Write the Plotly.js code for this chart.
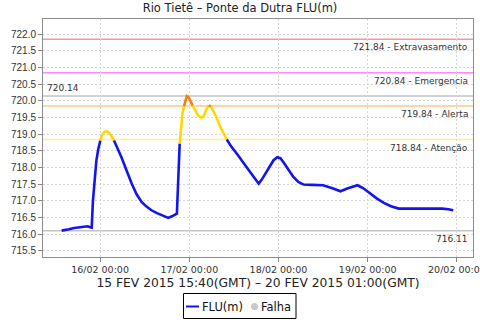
<!DOCTYPE html>
<html>
<head>
<meta charset="utf-8">
<script src="https://cdn.plot.ly/plotly-3.0.1.min.js"></script>
<style>html,body{margin:0;padding:0;background:#fff;}#chart{width:480px;height:320px;}</style>
</head>
<body>
<div id="chart"></div>
<script>
// Observed water level (local time axis)
const times = [
  '2015-02-15 13:40','2015-02-15 14:30','2015-02-15 15:40','2015-02-15 17:00','2015-02-15 18:30',
  '2015-02-15 19:40','2015-02-15 20:40','2015-02-15 21:20','2015-02-15 21:45','2015-02-15 22:05',
  '2015-02-15 22:35','2015-02-15 23:00','2015-02-15 23:30','2015-02-16 00:05','2015-02-16 00:40',
  '2015-02-16 01:15','2015-02-16 01:45','2015-02-16 02:20','2015-02-16 03:00','2015-02-16 03:45',
  '2015-02-16 04:40','2015-02-16 05:45','2015-02-16 07:00','2015-02-16 08:30','2015-02-16 09:50',
  '2015-02-16 11:10','2015-02-16 12:30','2015-02-16 13:50','2015-02-16 15:10','2015-02-16 16:30',
  '2015-02-16 17:30','2015-02-16 18:20','2015-02-16 19:20','2015-02-16 20:20','2015-02-16 20:40',
  '2015-02-16 21:25','2015-02-16 22:10','2015-02-16 22:35','2015-02-16 23:00','2015-02-16 23:20',
  '2015-02-16 23:50','2015-02-17 00:20','2015-02-17 00:55','2015-02-17 01:30','2015-02-17 02:20',
  '2015-02-17 03:15','2015-02-17 03:50','2015-02-17 04:30','2015-02-17 05:15','2015-02-17 05:50',
  '2015-02-17 06:30','2015-02-17 07:20','2015-02-17 08:15','2015-02-17 09:10','2015-02-17 10:05',
  '2015-02-17 11:20','2015-02-17 12:45','2015-02-17 14:00','2015-02-17 15:30','2015-02-17 17:00',
  '2015-02-17 18:15','2015-02-17 18:40','2015-02-17 19:30','2015-02-17 20:45','2015-02-17 21:50',
  '2015-02-17 22:40','2015-02-17 23:40','2015-02-18 00:30','2015-02-18 01:20','2015-02-18 02:40',
  '2015-02-18 04:00','2015-02-18 05:20','2015-02-18 06:45','2015-02-18 09:00','2015-02-18 12:00',
  '2015-02-18 14:30','2015-02-18 16:40','2015-02-18 18:30','2015-02-18 21:15','2015-02-18 22:50',
  '2015-02-19 00:40','2015-02-19 02:30','2015-02-19 04:20','2015-02-19 06:15','2015-02-19 08:20',
  '2015-02-19 11:00','2015-02-19 13:20','2015-02-19 16:30','2015-02-19 20:00','2015-02-19 21:40',
  '2015-02-19 23:00'
];
const levels = [
  716.11,716.12,716.15,716.19,716.21,
  716.23,716.24,716.21,716.20,717.00,
  717.82,718.20,718.55,718.81,719.00,
  719.07,719.09,719.05,718.96,718.81,
  718.60,718.31,717.95,717.52,717.20,
  716.97,716.83,716.72,716.64,716.57,
  716.52,716.49,716.54,716.60,716.62,
  718.72,719.62,719.84,720.05,720.14,
  720.10,719.99,719.85,719.72,719.56,
  719.49,719.53,719.72,719.86,719.83,
  719.70,719.50,719.24,719.02,718.84,
  718.62,718.42,718.22,718.01,717.77,
  717.58,717.52,717.64,717.87,718.08,
  718.22,718.31,718.28,718.16,717.95,
  717.72,717.57,717.49,717.48,717.47,
  717.38,717.29,717.37,717.47,717.38,
  717.22,717.07,716.94,716.84,716.77,
  716.77,716.79,716.79,716.77,716.75,
  716.72
];

// Alert thresholds
const alertLevels = [721.84, 720.84, 719.84, 718.84];
const alertNames  = ['Extravasamento', 'Emergencia', 'Alerta', 'Atenção'];
const alertColors = ['#f09a9a', '#ff88ff', '#ffc98c', '#fff08a'];

const xRange = ['2015-02-15 08:39', '2015-02-20 04:19'];
const yRange = [715.32, 722.45];

const maxLevel = Math.max(...levels);
const minLevel = Math.min(...levels);

const BLUE = '#1414f0', YELLOW = '#ffd800', ORANGE = '#f08010';
function colorFor(v) {
  if (v >= alertLevels[2]) return ORANGE;
  if (v >= alertLevels[3]) return YELLOW;
  return BLUE;
}

// split the series into coloured runs
const segs = [];
let cur = null;
for (let i = 0; i < levels.length - 1; i++) {
  const c = colorFor((levels[i] + levels[i + 1]) / 2);
  if (!cur || cur.c !== c) { cur = {c: c, x: [times[i]], y: [levels[i]]}; segs.push(cur); }
  cur.x.push(times[i + 1]); cur.y.push(levels[i + 1]);
}
const traces = segs.map(s => ({
  type: 'scatter', mode: 'lines', x: s.x, y: s.y,
  line: {color: s.c, width: 2.6}, showlegend: false, hoverinfo: 'skip'
}));

const shapes = [];
const annotations = [];
const lblFont = {family: 'DejaVu Sans', size: 9, color: '#333'};

alertLevels.forEach((v, i) => {
  shapes.push({type: 'line', xref: 'paper', x0: 0, x1: 1, yref: 'y', y0: v, y1: v,
    line: {color: alertColors[i], width: 1.5}, layer: 'below'});
  annotations.push({xref: 'paper', x: 1, xanchor: 'right', xshift: -3, yref: 'y', y: v,
    yanchor: 'middle', yshift: -8, showarrow: false, text: v.toFixed(2) + ' - ' + alertNames[i], font: lblFont});
});
shapes.push({type: 'line', xref: 'paper', x0: 0, x1: 1, yref: 'y', y0: maxLevel, y1: maxLevel,
  line: {color: '#c4c4c4', width: 1.5}, layer: 'below'});
annotations.push({xref: 'paper', x: 0, xanchor: 'left', xshift: 2, yref: 'y', y: maxLevel,
  yanchor: 'middle', yshift: 8, showarrow: false, text: maxLevel.toFixed(2), font: lblFont});
shapes.push({type: 'line', xref: 'paper', x0: 0, x1: 1, yref: 'y', y0: minLevel, y1: minLevel,
  line: {color: '#c4c4c4', width: 1.5}, layer: 'below'});
annotations.push({xref: 'paper', x: 1, xanchor: 'right', xshift: -3, yref: 'y', y: minLevel,
  yanchor: 'middle', yshift: -8, showarrow: false, text: minLevel.toFixed(2), font: lblFont});

// legend box (drawn below the axis title)
const px = v => (v - 43) / 430;
const py = v => (257 - v) / 238;
shapes.push({type: 'rect', xref: 'paper', yref: 'paper', x0: px(183.5), x1: px(296), y0: py(318.5), y1: py(293.5),
  line: {color: '#000', width: 1}, fillcolor: '#fff', layer: 'above'});
shapes.push({type: 'line', xref: 'paper', yref: 'paper', x0: px(186), x1: px(199), y0: py(306.5), y1: py(306.5),
  line: {color: BLUE, width: 2}, layer: 'above'});
shapes.push({type: 'circle', xref: 'paper', yref: 'paper', x0: px(251), x1: px(258), y0: py(310), y1: py(303),
  line: {color: '#c8c8c8', width: 0}, fillcolor: '#c8c8c8', layer: 'above'});
const legFont = {family: 'DejaVu Sans', size: 11.5, color: '#111'};
annotations.push({xref: 'paper', yref: 'paper', x: px(200), y: py(306.5), xanchor: 'left', yanchor: 'middle',
  showarrow: false, text: 'FLU(m)', font: legFont});
annotations.push({xref: 'paper', yref: 'paper', x: px(259), y: py(306.5), xanchor: 'left', yanchor: 'middle',
  showarrow: false, text: 'Falha', font: legFont});

const layout = {
  width: 480, height: 320,
  margin: {l: 43, r: 7, t: 19, b: 63},
  paper_bgcolor: '#fff', plot_bgcolor: '#fff',
  showlegend: false,
  title: {text: 'Rio Tietê – Ponte da Dutra FLU(m)', font: {family: 'DejaVu Sans', size: 11.5, color: '#222'},
    x: 0.5, xref: 'container', xanchor: 'center', y: 1 - 8 / 320, yref: 'container', yanchor: 'middle'},
  xaxis: {
    type: 'date', range: xRange, tick0: '2015-02-16', dtick: 86400000, tickformat: '%d/%m %H:%M',
    ticks: 'outside', ticklen: 4, tickcolor: '#888', ticklabeloverflow: 'allow',
    showgrid: true, gridcolor: '#d6d6d6', griddash: '2px,2px',
    showline: true, linecolor: '#8c8c8c', mirror: true, zeroline: false, automargin: false,
    tickfont: {family: 'DejaVu Sans', size: 9.5, color: '#333'},
    title: {text: '15 FEV 2015 15:40(GMT) – 20 FEV 2015 01:00(GMT)',
      font: {family: 'DejaVu Sans', size: 12.3, color: '#222'}, standoff: 3}
  },
  yaxis: {
    range: yRange, tick0: 715.5, dtick: 0.5, tickformat: '.1f',
    ticks: 'outside', ticklen: 4, tickcolor: '#888',
    showgrid: true, gridcolor: '#d6d6d6', griddash: '2px,2px',
    showline: true, linecolor: '#8c8c8c', mirror: true, zeroline: false, automargin: false,
    tickfont: {family: 'Liberation Sans', size: 10, color: '#333'}
  },
  shapes: shapes,
  annotations: annotations
};

Plotly.newPlot('chart', traces, layout, {displayModeBar: false, staticPlot: true});
</script>
</body>
</html>
